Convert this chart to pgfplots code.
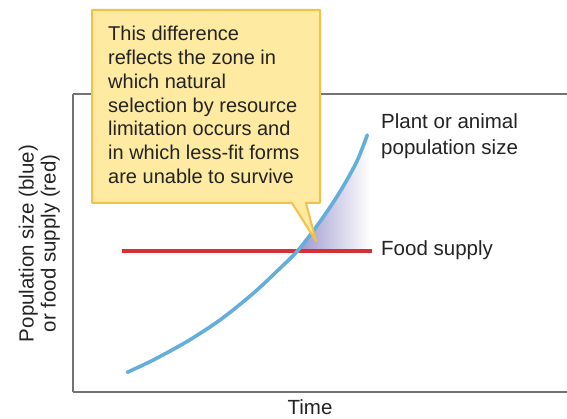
\documentclass[border=0pt]{standalone}
\usepackage{pgfplots}
\pgfplotsset{compat=1.18}
\usepackage{fontspec}
\setmainfont{Liberation Sans}
\definecolor{popblue}{RGB}{100,174,219}
\definecolor{foodred}{RGB}{214,48,52}
\definecolor{shadepurple}{RGB}{158,152,206}
\definecolor{calloutfill}{RGB}{254,234,160}
\definecolor{calloutdraw}{RGB}{242,193,72}
\definecolor{axisgray}{RGB}{115,115,115}
\definecolor{txt}{RGB}{35,35,35}
\begin{document}
\begin{tikzpicture}
\useasboundingbox (0,0) rectangle (567pt,419pt);
\begin{axis}[
  at={(73pt,27pt)}, anchor=south west,
  scale only axis, width=494pt, height=298pt,
  xmin=0, xmax=10, ymin=0, ymax=10,
  axis x line*=box, axis y line*=left,
  axis line style={axisgray, line width=1.2pt},
  xtick=\empty, ytick=\empty,
  clip=false,
]
% shaded zone between population and food supply
\addplot[draw=none, left color=shadepurple, right color=white]
  coordinates {(4.561,4.742) (5.000,5.715) (5.405,6.721) (5.743,7.728) (5.957,8.624) (6.01,8.624) (6.01,4.742)} -- cycle;
% food supply
\addplot[foodred, line width=3.9pt] coordinates {(0.982,4.742) (6.047,4.742)};
% population
\addplot[popblue, line width=3.6pt, smooth, line cap=round] coordinates {
(1.099,0.661) (1.626,1.074) (2.302,1.688) (2.976,2.416) (3.650,3.312)
(4.190,4.151) (4.561,4.765) (5.000,5.715) (5.405,6.721) (5.743,7.728) (5.957,8.624)};
\end{axis}
\begin{scope}[x=1pt,y=-1pt,yshift=419pt]
  \filldraw[fill=calloutfill, draw=calloutdraw, line width=2pt, line join=round]
    (92,10) -- (320,10) -- (320,203) -- (306,203) -- (316,241) -- (292,203) -- (92,203) -- cycle;
  \begin{scope}[every node/.style={anchor=base west, inner sep=0pt, text=txt, font=\fontsize{20}{24}\selectfont}]
    \node at (108,40.7) {This difference};
    \node at (108,64.5) {reflects the zone in};
    \node at (108,88.3) {which natural};
    \node at (108,112.1) {selection by resource};
    \node at (108,135.9) {limitation occurs and};
    \node at (108,159.7) {in which less-fit forms};
    \node at (108,183.5) {are unable to survive};
  \end{scope}
  \begin{scope}[every node/.style={inner sep=0pt, text=txt, font=\fontsize{20.5}{24}\selectfont}]
    \node[anchor=base west] at (381,128.3) {Plant or animal};
    \node[anchor=base west] at (381,154.3) {population size};
    \node[anchor=base west] at (381,255.7) {Food supply};
    \node[anchor=base] at (310,415) {Time};
    \node[anchor=base, rotate=90] at (33.5,243.5) {Population size (blue)};
    \node[anchor=base, rotate=90] at (55.5,243.5) {or food supply (red)};
  \end{scope}
\end{scope}
\end{tikzpicture}
\end{document}
